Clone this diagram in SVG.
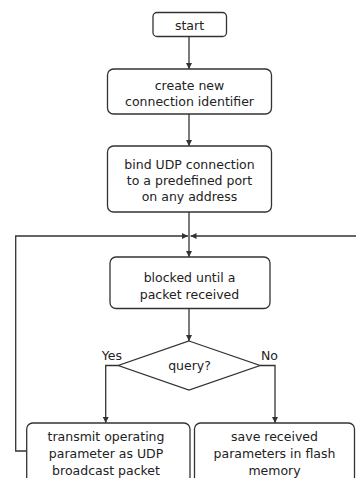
<svg xmlns="http://www.w3.org/2000/svg" width="356" height="478" viewBox="0 0 356 478">
<style>
.box{fill:#fff;stroke:#333;stroke-width:1.3}
.ln{fill:none;stroke:#333;stroke-width:1.3}
text{font-family:"DejaVu Sans",Verdana,sans-serif;font-size:12.5px;fill:#222;text-anchor:middle}
</style>
<defs>
<marker id="ah" viewBox="0 0 10 10" refX="10" refY="5" markerWidth="6" markerHeight="6" markerUnits="userSpaceOnUse" orient="auto">
<path d="M0,0 L10,5 L0,10 z" fill="#333"/>
</marker>
</defs>
<rect width="356" height="478" fill="#fff"/>
<g id="connectors">
<line class="ln" x1="189" y1="37" x2="189" y2="69" marker-end="url(#ah)"/>
<line class="ln" x1="189" y1="114" x2="189" y2="146" marker-end="url(#ah)"/>
<line class="ln" x1="189" y1="212" x2="189" y2="257" marker-end="url(#ah)"/>
<polyline class="ln" points="27,451 15.7,451 15.7,236 188,236" marker-end="url(#ah)"/>
<line class="ln" x1="357" y1="236" x2="190.5" y2="236" marker-end="url(#ah)"/>
<line class="ln" x1="189" y1="308" x2="189" y2="341" marker-end="url(#ah)"/>
<polyline class="ln" points="118.3,365.5 105.7,365.5 105.7,423" marker-end="url(#ah)"/>
<polyline class="ln" points="260,365.5 275,365.5 275,423" marker-end="url(#ah)"/>
</g>
<g id="start">
<rect class="box" x="153" y="12.5" width="73.5" height="24" rx="4"/>
<text x="189.5" y="29.5">start</text>
</g>
<g id="create">
<rect class="box" x="107.5" y="69" width="164" height="45" rx="6"/>
<text x="189.5" y="89.5">create new</text>
<text x="189.5" y="105.5">connection identifier</text>
</g>
<g id="bind">
<rect class="box" x="107.5" y="146" width="164" height="66" rx="6"/>
<text x="189.5" y="168.5">bind UDP connection</text>
<text x="189.5" y="184.5">to a predefined port</text>
<text x="189.5" y="201">on any address</text>
</g>
<g id="blocked">
<rect class="box" x="110" y="257" width="160" height="51.5" rx="6"/>
<text x="189.5" y="281.5">blocked until a</text>
<text x="189.5" y="298.5">packet received</text>
</g>
<g id="query">
<polygon class="box" points="189,341 260,365.5 189,390 118.3,365.5"/>
<text x="189.5" y="370">query?</text>
<text x="122" y="360" style="text-anchor:end">Yes</text>
<text x="261" y="360" style="text-anchor:start">No</text>
</g>
<g id="transmit">
<rect class="box" x="26.7" y="423" width="163.3" height="62" rx="6"/>
<text x="106" y="441">transmit operating</text>
<text x="106" y="458">parameter as UDP</text>
<text x="106" y="474.5">broadcast packet</text>
</g>
<g id="save">
<rect class="box" x="194.5" y="423" width="160" height="62" rx="6"/>
<text x="274.5" y="441">save received</text>
<text x="274.5" y="458">parameters in flash</text>
<text x="274.5" y="474.5">memory</text>
</g>
</svg>
